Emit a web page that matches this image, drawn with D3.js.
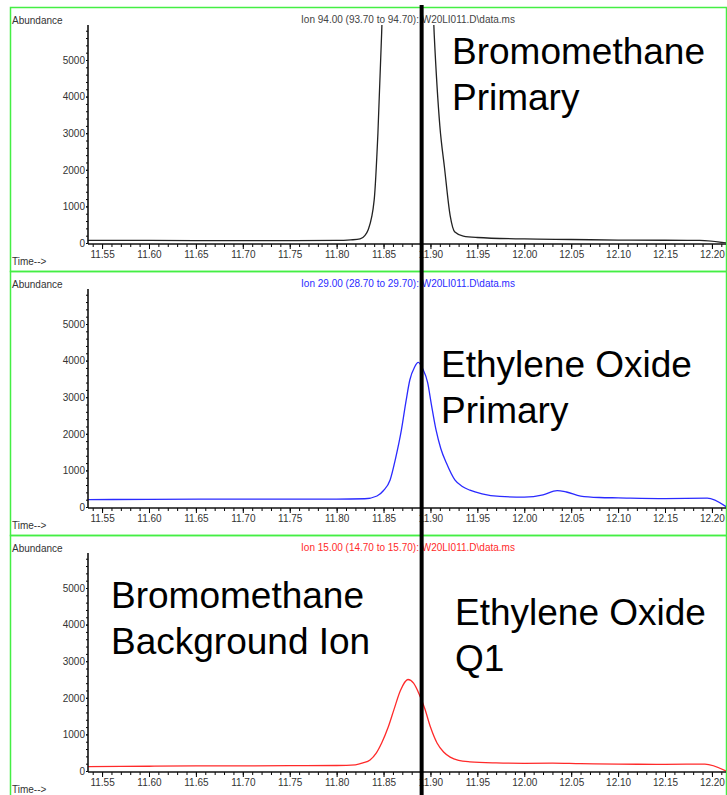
<!DOCTYPE html>
<html>
<head>
<meta charset="utf-8">
<script src="https://cdn.jsdelivr.net/npm/d3@7"></script>
<style>
  body { margin: 0; background: #fff; }
  svg { display: block; }
</style>
</head>
<body>
<div id="chart"></div>
<script>
// retention time (min) / abundance
var times94 = [11.535, 11.60, 11.70, 11.80, 11.815, 11.825, 11.830, 11.8335, 11.840, 11.844, 11.848, 11.852, 11.86, 11.87, 11.88, 11.89, 11.898, 11.904, 11.910, 11.915, 11.921, 11.926, 11.935, 11.95, 12.00, 12.05, 12.10, 12.15, 12.187, 12.215];
var values94 = [70, 70, 65, 70, 85, 110, 200, 355, 1170, 3000, 5750, 9000, 14000, 18000, 19000, 15000, 9500, 5700, 3200, 2050, 750, 300, 190, 150, 110, 95, 80, 75, 70, 0];

var times29 = [11.535, 11.60, 11.70, 11.80, 11.83, 11.843, 11.85, 11.857, 11.863, 11.869, 11.874, 11.878, 11.883, 11.887, 11.892, 11.897, 11.901, 11.906, 11.911, 11.917, 11.926, 11.934, 11.942, 11.955, 11.974, 12.00, 12.02, 12.035, 12.045, 12.06, 12.08, 12.10, 12.15, 12.195, 12.215];
var values29 = [200, 210, 215, 215, 225, 300, 450, 740, 1350, 2100, 2900, 3470, 3820, 3950, 3760, 3400, 2800, 2100, 1600, 1200, 740, 560, 460, 360, 290, 270, 330, 450, 410, 300, 260, 250, 230, 240, 10];

var times15 = [11.535, 11.60, 11.65, 11.70, 11.75, 11.80, 11.82, 11.828, 11.8356, 11.842, 11.848, 11.855, 11.861, 11.868, 11.876, 11.882, 11.888, 11.894, 11.900, 11.907, 11.914, 11.921, 11.930, 11.942, 11.97, 12.00, 12.03, 12.06, 12.10, 12.15, 12.1925, 12.215];
var values15 = [120, 130, 140, 140, 145, 150, 170, 220, 300, 480, 765, 1200, 1670, 2200, 2500, 2400, 2100, 1700, 1200, 765, 520, 380, 290, 250, 220, 210, 215, 200, 190, 180, 190, 0];

var yTicks = [0, 1000, 2000, 3000, 4000, 5000];
var xTicks = [11.55, 11.60, 11.65, 11.70, 11.75, 11.80, 11.85, 11.90, 11.95, 12.00, 12.05, 12.10, 12.15, 12.20];

var titles = ['Ion  94.00 (93.70 to 94.70): W20LI011.D\\data.ms',
              'Ion  29.00 (28.70 to 29.70): W20LI011.D\\data.ms',
              'Ion  15.00 (14.70 to 15.70): W20LI011.D\\data.ms'];
var colors = ['#222222', '#2a2aff', '#ff2a2a'];
var traces = [[times94, values94], [times29, values29], [times15, values15]];

var markTime = 11.8906; // the thick black marker line

var _width = 727, _height = 795;
var _font = '"Liberation Sans", Arial, sans-serif';
var _panelH = 264;
var _top0 = 7;

var svg = d3.select('#chart').append('svg')
    .attr('width', _width)
    .attr('height', _height);

var x = d3.scaleLinear().domain([11.535, 12.215]).range([88, 726]);

function drawPanel(i) {
    var top = _top0 + i * _panelH;
    var g = svg.append('g').attr('transform', 'translate(0,' + top + ')');

    // green frame
    g.append('rect')
    .attr('x', 10.5)
    .attr('y', 0.5)
    .attr('width', 716)
    .attr('height', _panelH)
    .style('fill', 'none')
    .style('stroke', '#44ee44')
    .style('stroke-width', 1.5);

    var y = d3.scaleLinear().domain([0, 5000]).range([236, 53]);
    var yMax = y.invert(18);

    g.append('text')
    .attr('x', 12)
    .attr('y', 17)
    .attr('font-size', 10)
    .attr('font-family', _font)
    .attr('fill', '#333')
    .text('Abundance');

    g.append('text')
    .attr('x', 12)
    .attr('y', 258)
    .attr('font-size', 10)
    .attr('font-family', _font)
    .attr('fill', '#333')
    .text('Time-->');

    g.append('text')
    .attr('x', 408)
    .attr('y', 16)
    .attr('font-size', 10)
    .attr('font-family', _font)
    .attr('text-anchor', 'middle')
    .attr('fill', i === 0 ? '#444' : colors[i])
    .text(titles[i]);

    // clip
    g.append('clipPath')
    .attr('id', 'clip' + i)
    .append('rect')
    .attr('x', x.range()[0])
    .attr('y', y(yMax))
    .attr('width', x.range()[1] - x.range()[0])
    .attr('height', y(0) - y(yMax));

    var line = d3.line()
        .x(function(d) { return x(d[0]); })
        .y(function(d) { return y(d[1]); })
        .curve(d3.curveMonotoneX);

    var pts = traces[i][0].map(function(t, k) { return [t, traces[i][1][k]]; });

    g.append('path')
    .datum(pts)
    .attr('clip-path', 'url(#clip' + i + ')')
    .attr('d', line)
    .style('fill', 'none')
    .style('stroke', colors[i])
    .style('stroke-width', 1.3);

    // y axis
    var yAxis = g.append('g').attr('transform', 'translate(88,0)');
    yAxis.call(d3.axisLeft(y).tickValues(d3.range(0, 5801, 200)).tickSize(2).tickFormat(''));
    yAxis.call(function(s) { s.select('.domain').remove(); });
    var yMajor = g.append('g').attr('transform', 'translate(88,0)')
        .call(d3.axisLeft(y).tickValues(yTicks).tickSize(2).tickPadding(1).tickFormat(d3.format('d')));
    yMajor.select('.domain').remove();
    yMajor.selectAll('text').attr('font-size', 10).attr('font-family', _font).attr('fill', '#333');
    g.append('line')
    .attr('x1', 88).attr('x2', 88)
    .attr('y1', y(yMax)).attr('y2', y(0) + 1)
    .style('stroke', '#111')
    .style('stroke-width', 1.6);

    // x axis
    var xMinor = g.append('g').attr('transform', 'translate(0,' + (y(0) + 1) + ')')
        .call(d3.axisBottom(x).tickValues(d3.range(11.54, 12.215, 0.01)).tickSize(3).tickFormat(''));
    xMinor.select('.domain').remove();
    var xMajor = g.append('g').attr('transform', 'translate(0,' + (y(0) + 1) + ')')
        .call(d3.axisBottom(x).tickValues(xTicks).tickSize(5).tickPadding(2).tickFormat(d3.format('.2f')));
    xMajor.select('.domain').remove();
    xMajor.selectAll('text').attr('font-size', 10).attr('font-family', _font).attr('fill', '#333');
    g.append('line')
    .attr('x1', 88).attr('x2', 726)
    .attr('y1', y(0) + 1).attr('y2', y(0) + 1)
    .style('stroke', '#111')
    .style('stroke-width', 1.6);
}

for (var p = 0; p < 3; p++) drawPanel(p);

// marker line across all panels
svg.append('line')
.attr('x1', x(markTime)).attr('x2', x(markTime))
.attr('y1', 5).attr('y2', _height)
.style('stroke', '#000')
.style('stroke-width', 4);

// big annotations
var notes = [
    {x: 452, y: 64, lines: ['Bromomethane', 'Primary']},
    {x: 441, y: 377, lines: ['Ethylene Oxide', 'Primary']},
    {x: 111, y: 608, lines: ['Bromomethane', 'Background Ion']},
    {x: 455, y: 625, lines: ['Ethylene Oxide', 'Q1']}
];
notes.forEach(function(n) {
    var t = svg.append('text')
        .attr('x', n.x)
        .attr('y', n.y)
        .attr('font-size', 37)
        .attr('font-family', _font)
        .attr('fill', '#000');
    n.lines.forEach(function(s, k) {
        t.append('tspan').attr('x', n.x).attr('dy', k === 0 ? 0 : 46).text(s);
    });
});
</script>
</body>
</html>
